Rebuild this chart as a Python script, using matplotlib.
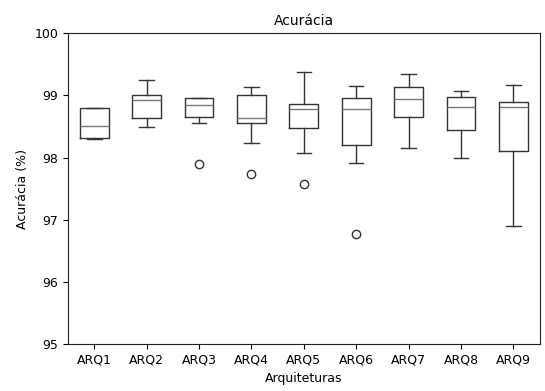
import matplotlib
matplotlib.use("Agg")
import matplotlib.pyplot as plt

# Estatisticas de cada arquitetura (acuracia em %)
labels = ["ARQ1", "ARQ2", "ARQ3", "ARQ4", "ARQ5", "ARQ6", "ARQ7", "ARQ8", "ARQ9"]
whislo = [98.30, 98.49, 98.56, 98.24, 98.08, 97.92, 98.16, 98.00, 96.90]
q1 = [98.31, 98.63, 98.65, 98.56, 98.48, 98.20, 98.65, 98.44, 98.10]
med = [98.50, 98.93, 98.84, 98.64, 98.78, 98.78, 98.95, 98.81, 98.82]
q3 = [98.79, 99.00, 98.96, 99.01, 98.86, 98.96, 99.13, 98.98, 98.90]
whishi = [98.79, 99.25, 98.96, 99.14, 99.37, 99.15, 99.35, 99.07, 99.16]
fliers = [[], [], [97.90], [97.74], [97.57], [96.77], [], [], []]

stats = []
for i in range(len(labels)):
    stats.append({
        "label": labels[i],
        "whislo": whislo[i],
        "q1": q1[i],
        "med": med[i],
        "q3": q3[i],
        "whishi": whishi[i],
        "fliers": fliers[i],
    })

plt.rcParams["font.family"] = ["DejaVu Sans"]
plt.rcParams["font.size"] = 9

fig, ax = plt.subplots(figsize=(5.45, 3.91), dpi=100)
fig.subplots_adjust(left=0.125, right=0.99, top=0.915, bottom=0.12)

line_col = "#333333"
ax.bxp(
    stats,
    widths=0.55,
    boxprops=dict(color=line_col, linewidth=1.0),
    whiskerprops=dict(color=line_col, linewidth=1.0),
    capprops=dict(color=line_col, linewidth=1.0),
    medianprops=dict(color="#777777", linewidth=1.0),
    flierprops=dict(marker="o", markerfacecolor="none",
                    markeredgecolor=line_col, markersize=6),
)

ax.set_ylim(95, 100)
ax.set_yticks([95, 96, 97, 98, 99, 100])
ax.set_title("Acurácia", fontsize=10)
ax.set_xlabel("Arquiteturas")
ax.set_ylabel("Acurácia (%)")
for s in ax.spines.values():
    s.set_color("#222222")

plt.savefig("out.png", dpi=100)
